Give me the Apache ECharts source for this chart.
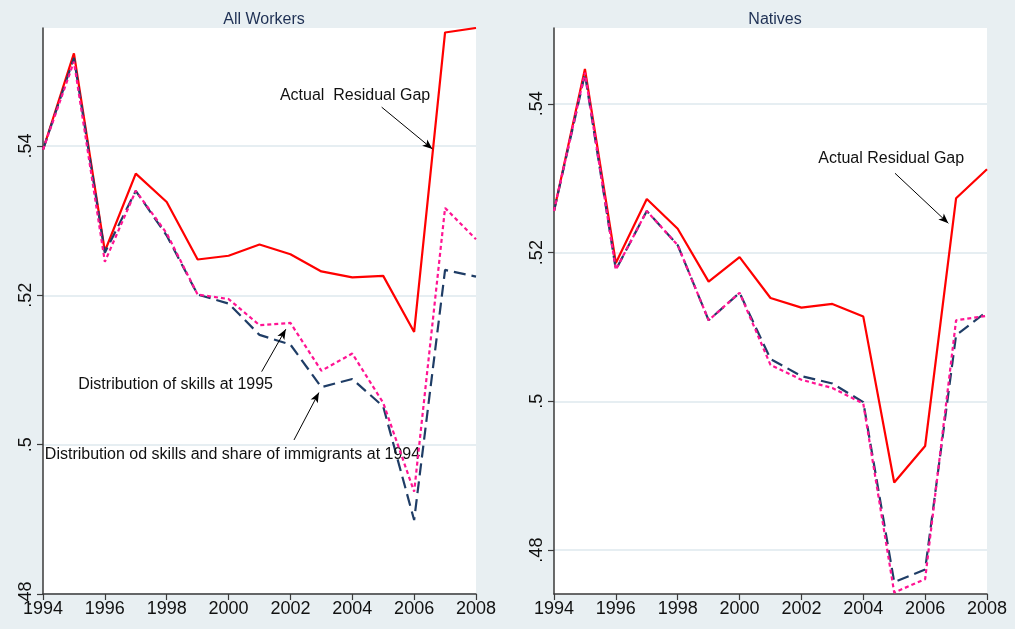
<!DOCTYPE html>
<html><head><meta charset="utf-8">
<script src="https://cdn.jsdelivr.net/npm/echarts@6/dist/echarts.min.js"></script>
<style>html,body{margin:0;padding:0;background:#e8eff2;}#c{width:1015px;height:629px;}</style>
</head><body><div id="c"></div>
<script>
// ---- data ----
const years = [1994,1995,1996,1997,1998,1999,2000,2001,2002,2003,2004,2005,2006,2007,2008];
const xTicks = [1994,1996,1998,2000,2002,2004,2006,2008];
const yTickValues = [0.48,0.50,0.52,0.54];
const yTickLabels = ['.48','.5','.52','.54'];
const panelTitles = ['All Workers','Natives'];

// All Workers
const allActual  = [0.5395,0.5524,0.5259,0.5363,0.5325,0.5248,0.5253,0.5268,0.5255,0.5232,0.5224,0.5226,0.5151,0.5552,0.5558];
const allSkills95 = [0.5395,0.5513,0.5245,0.5340,0.5283,0.5201,0.5195,0.5160,0.5163,0.5099,0.5122,0.5056,0.4937,0.5317,0.5275];
const allSkillsImm94 = [0.5395,0.5518,0.5257,0.5340,0.5280,0.5201,0.5189,0.5147,0.5134,0.5077,0.5088,0.5051,0.4899,0.5234,0.5225];

// Natives
const natActual  = [0.5256,0.5447,0.5186,0.5272,0.5232,0.5161,0.5194,0.5139,0.5126,0.5131,0.5114,0.4891,0.4940,0.5273,0.5312];
const natSkills95 = [0.5256,0.5442,0.5177,0.5256,0.5210,0.5109,0.5146,0.5049,0.5029,0.5018,0.4997,0.4743,0.4761,0.5109,0.5115];
const natSkillsImm94 = [0.5256,0.5440,0.5177,0.5256,0.5210,0.5109,0.5146,0.5057,0.5034,0.5024,0.4999,0.4757,0.4774,0.5089,0.5121];

const yRangeAll = [0.48, 0.5558];
const yRangeNat = [0.4741, 0.5502];

// annotations (data coordinates)
const allLabels = [
  {text:'Actual  Residual Gap', at:[2001.66,0.5467]},
  {text:'Distribution of skills at 1995', at:[1995.14,0.5080]},
  {text:'Distribution od skills and share of immigrants at 1994', at:[1994.06,0.49862]}
];
const allArrows = [
  [[2004.95,0.5452],[2006.59,0.5396]],
  [[2001.07,0.50978],[2001.85,0.51546]],
  [[2002.115,0.50063],[2002.92,0.50697]]
];
const natLabels = [
  {text:'Actual Residual Gap', at:[2002.545,0.53268]}
];
const natArrows = [
  [[2005.025,0.53067],[2006.75,0.52394]]
];

// ---- chart ----
const pair = (vals) => years.map((y,i)=>[y, vals[i]]);
const FONT = 'Liberation Sans, Arial, sans-serif';

function xAxis(gi){
  return {type:'value', gridIndex:gi, min:1994, max:2008, interval:2,
    axisLine:{show:true, onZero:false, lineStyle:{color:'#3a3a3a', width:1.5}},
    axisTick:{show:true, length:6, lineStyle:{color:'#3a3a3a', width:1.2}},
    axisLabel:{color:'#111', fontSize:18, fontFamily:FONT, margin:6, formatter:v=>String(v)},
    splitLine:{show:false}};
}
function yAxis(gi, rng){
  return {type:'value', gridIndex:gi, min:rng[0], max:rng[1],
    axisLine:{show:true, onZero:false, lineStyle:{color:'#3a3a3a', width:1.5}},
    axisTick:{show:true, length:6, customValues:yTickValues, lineStyle:{color:'#3a3a3a', width:1.2}},
    axisLabel:{customValues:yTickValues, rotate:90, color:'#111', fontSize:18, fontFamily:FONT, margin:8,
      formatter:v=>{const i=yTickValues.findIndex(t=>Math.abs(t-v)<1e-9); return i>=0?yTickLabels[i]:'';}},
    splitLine:{show:true, lineStyle:{color:'#e6eef2', width:2}}};
}
function lineSeries(gi, vals, color, type, width){
  return {type:'line', xAxisIndex:gi, yAxisIndex:gi, data:pair(vals), symbol:'none', animation:false,
    lineStyle:{color:color, width:width, type:type}, z:type==='solid'?3:(Array.isArray(type)&&type[0]>6?4:5)};
}
function annSeries(gi, labels, arrows){
  return {type:'line', xAxisIndex:gi, yAxisIndex:gi, data:[], symbol:'none', animation:false, silent:true,
    markPoint:{symbol:'circle', symbolSize:0, animation:false,
      data:labels.map(l=>({coord:l.at, value:l.text})),
      label:{show:true, position:'right', distance:0, formatter:p=>p.value, color:'#111', fontSize:16, fontFamily:FONT}},
    markLine:{symbol:['none','arrow'], symbolSize:[6,10], animation:false, silent:true,
      label:{show:false}, lineStyle:{color:'#000', width:1, type:'solid'},
      data:arrows.map(a=>[{coord:a[0]},{coord:a[1]}])}};
}

const chart = echarts.init(document.getElementById('c'), null, {renderer:'canvas'});
chart.setOption({
  backgroundColor:'#e8eff2',
  animation:false,
  title:[
    {text:panelTitles[0], left:259, top:7, textAlign:'center', textStyle:{color:'#1e3054', fontSize:16, fontWeight:'normal', fontFamily:FONT}},
    {text:panelTitles[1], left:770, top:7, textAlign:'center', textStyle:{color:'#1e3054', fontSize:16, fontWeight:'normal', fontFamily:FONT}}
  ],
  grid:[
    {left:43, right:539, top:28, bottom:35, show:true, backgroundColor:'#ffffff', borderWidth:0},
    {left:554, right:28, top:28, bottom:35, show:true, backgroundColor:'#ffffff', borderWidth:0}
  ],
  xAxis:[xAxis(0), xAxis(1)],
  yAxis:[yAxis(0, yRangeAll), yAxis(1, yRangeNat)],
  series:[
    lineSeries(0, allSkillsImm94, '#1f3d66', [12,6], 2.2),
    lineSeries(0, allSkills95, '#ff1493', [4,3], 2.2),
    lineSeries(0, allActual, '#ff0000', 'solid', 2.2),
    annSeries(0, allLabels, allArrows),
    lineSeries(1, natSkillsImm94, '#1f3d66', [12,6], 2.2),
    lineSeries(1, natSkills95, '#ff1493', [4,3], 2.2),
    lineSeries(1, natActual, '#ff0000', 'solid', 2.2),
    annSeries(1, natLabels, natArrows)
  ]
});
</script></body></html>
